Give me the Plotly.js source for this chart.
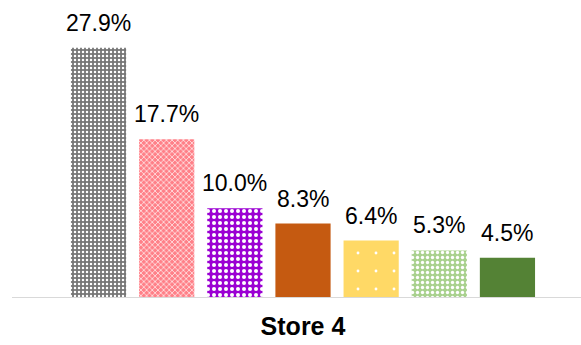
<!DOCTYPE html>
<html><head><meta charset="utf-8">
<script src="https://cdn.plot.ly/plotly-3.0.1.min.js"></script>
<style>body{margin:0}#c{width:581px;height:345px}</style>
</head><body><div id="c"></div>
<script>
const category = ['Store 4'];
const seriesNames = ['S1','S2','S3','S4','S5','S6','S7'];
const values = [27.9, 17.7, 10.0, 8.3, 6.4, 5.3, 4.5];
const labels = ['27.9%','17.7%','10.0%','8.3%','6.4%','5.3%','4.5%'];
const colors = ['#767676','#ff8088','#9b00d3','#c55a11','#ffd966','#a9d18e','#548235'];
const patterns = [
  {shape:'.', size:4, solidity:0.3},
  {shape:'x', size:4, solidity:0.3},
  {shape:'.', size:6, solidity:0.35},
  {shape:''},
  {shape:'.', size:18, solidity:0.02},
  {shape:'.', size:5, solidity:0.35},
  {shape:''}
];
const W = 581, H = 345;
const M = {l:25, r:0, t:10, b:47};
const bargap = 0.142, bargroupgap = 0.19;
const plotW = W - M.l - M.r;
const slot = plotW * (1 - bargap) / values.length;

const traces = values.map((v,i)=>({
  type:'bar', x:category, y:[v], name:seriesNames[i],
  marker:{color:colors[i], line:{width:0},
    pattern: patterns[i].shape ? {shape:patterns[i].shape, size:patterns[i].size, solidity:patterns[i].solidity, fgcolor:'#ffffff', bgcolor:colors[i], fillmode:'replace'} : {shape:''}}
}));
const annotations = values.map((v,i)=>({
  x:category[0], y:v, xref:'x', yref:'y', text:labels[i], showarrow:false,
  yanchor:'bottom', xanchor:'center', yshift:10, xshift:(i-(values.length-1)/2)*slot,
  font:{family:'Arial, Liberation Sans', size:23, color:'#000'}
}));
const layout = {
  width:W, height:H, showlegend:false,
  paper_bgcolor:'#fff', plot_bgcolor:'#fff',
  margin:M,
  barmode:'group', bargap:bargap, bargroupgap:bargroupgap,
  xaxis:{type:'category', range:[-0.5,0.5], showline:false, showticklabels:false, ticks:'', showgrid:false,
    title:{text:'<b>Store 4</b>', font:{family:'Arial, Liberation Sans', size:25, color:'#000'}, standoff:19}},
  yaxis:{range:[0,32.1], visible:false, showgrid:false, zeroline:false},
  annotations:annotations,
  shapes:[{type:'line', xref:'paper', yref:'y', x0:-13/plotW, x1:1, y0:0, y1:0, line:{color:'#d9d9d9', width:2}}],
  font:{family:'Arial, Liberation Sans'}
};
Plotly.newPlot('c', traces, layout, {displayModeBar:false, staticPlot:true});
</script></body></html>
